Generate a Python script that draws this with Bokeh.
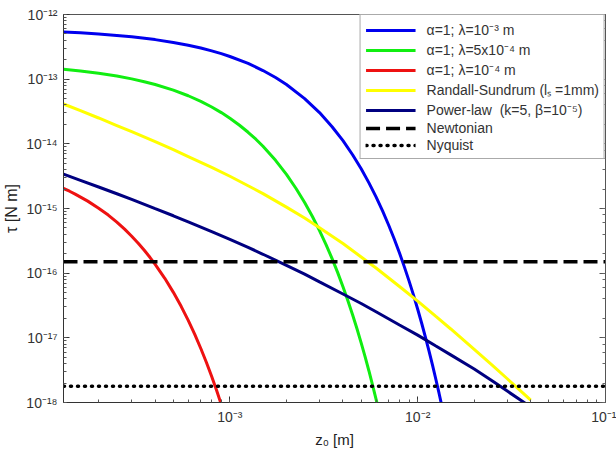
from bokeh.plotting import figure
from bokeh.models import (Range1d, LogAxis, Legend, LegendItem,
                          CustomJSTickFormatter, LogTicker)
from bokeh.embed import file_html
from bokeh.resources import INLINE

# ---- data ----
x_blue = [1.3e-4, 1.6e-4, 2e-4, 2.5e-4, 3e-4, 4e-4, 5e-4, 6e-4, 7e-4, 8e-4, 9e-4, 1e-3,
          1.25e-3, 1.5e-3, 1.75e-3, 2e-3, 2.5e-3, 3e-3, 3.5e-3, 4e-3, 4.5e-3, 5e-3, 5.5e-3,
          6e-3, 6.5e-3, 7e-3, 7.5e-3, 8e-3, 8.5e-3, 9e-3, 9.5e-3, 1e-2, 1.05e-2, 1.1e-2,
          1.15e-2, 1.2e-2, 1.25e-2, 1.3e-2, 1.35e-2, 1.4e-2]
tau_blue = [5.36e-13, 5.20e-13, 4.99e-13, 4.75e-13, 4.52e-13, 4.09e-13, 3.70e-13, 3.35e-13,
            3.03e-13, 2.74e-13, 2.48e-13, 2.24e-13, 1.75e-13, 1.36e-13, 1.06e-13, 8.26e-14,
            5.01e-14, 3.04e-14, 1.84e-14, 1.12e-14, 6.78e-15, 4.11e-15, 2.49e-15, 1.51e-15,
            9.17e-16, 5.56e-16, 3.37e-16, 2.05e-16, 1.24e-16, 7.53e-17, 4.57e-17, 2.77e-17,
            1.68e-17, 1.02e-17, 6.18e-18, 3.75e-18, 2.27e-18, 1.38e-18, 8.36e-19, 5.1e-19]

x_green = [1.3e-4, 1.6e-4, 2e-4, 2.5e-4, 3e-4, 3.5e-4, 4e-4, 5e-4, 6e-4, 7e-4, 8e-4, 9e-4,
           1e-3, 1.125e-3, 1.25e-3, 1.375e-3, 1.5e-3, 1.75e-3, 2e-3, 2.25e-3, 2.5e-3, 2.75e-3,
           3e-3, 3.25e-3, 3.5e-3, 3.75e-3, 4e-3, 4.25e-3, 4.5e-3, 4.75e-3, 5e-3, 5.25e-3,
           5.5e-3, 5.75e-3, 6e-3, 6.25e-3, 6.5e-3]
tau_green = [1.42e-13, 1.34e-13, 1.23e-13, 1.12e-13, 1.01e-13, 9.14e-14, 8.27e-14, 6.77e-14,
             5.54e-14, 4.54e-14, 3.71e-14, 3.04e-14, 2.49e-14, 1.94e-14, 1.51e-14, 1.18e-14,
             9.16e-15, 5.56e-15, 3.37e-15, 2.04e-15, 1.24e-15, 7.52e-16, 4.56e-16, 2.77e-16,
             1.68e-16, 1.02e-16, 6.17e-17, 3.74e-17, 2.27e-17, 1.38e-17, 8.35e-18, 5.07e-18,
             3.07e-18, 1.86e-18, 1.13e-18, 6.85e-19, 4.16e-19]

x_red = [1.3e-4, 1.4e-4, 1.5e-4, 1.75e-4, 2e-4, 2.25e-4, 2.5e-4, 2.75e-4, 3e-4, 3.25e-4,
         3.5e-4, 3.75e-4, 4e-4, 4.5e-4, 5e-4, 5.5e-4, 6e-4, 6.5e-4, 7e-4, 7.5e-4, 8e-4,
         8.5e-4, 9e-4, 9.5e-4, 1e-3]
tau_red = [2.04e-15, 1.85e-15, 1.67e-15, 1.30e-15, 1.01e-15, 7.91e-16, 6.16e-16, 4.79e-16,
           3.73e-16, 2.91e-16, 2.26e-16, 1.76e-16, 1.37e-16, 8.33e-17, 5.05e-17, 3.07e-17,
           1.86e-17, 1.13e-17, 6.84e-18, 4.15e-18, 2.52e-18, 1.53e-18, 9.3e-19, 5.6e-19,
           3.4e-19]

x_common = [1.3e-4, 1.6e-4, 2e-4, 2.5e-4, 3e-4, 4e-4, 5e-4, 6e-4, 8e-4, 1e-3, 1.25e-3,
            1.5e-3, 2e-3, 2.5e-3, 3e-3, 4e-3, 5e-3, 6e-3, 8e-3, 1e-2, 1.25e-2, 1.5e-2, 2e-2,
            2.5e-2, 3e-2, 4e-2]
tau_yellow = [4.13e-14, 3.27e-14, 2.51e-14, 1.92e-14, 1.54e-14, 1.08e-14, 8.11e-15, 6.35e-15,
              4.32e-15, 3.15e-15, 2.25e-15, 1.70e-15, 1.05e-15, 7.11e-16, 5.02e-16, 2.87e-16,
              1.78e-16, 1.20e-16, 6.23e-17, 3.70e-17, 2.14e-17, 1.37e-17, 6.62e-18, 3.74e-18,
              2.33e-18, 1.09e-18]
tau_navy = [3.40e-15, 2.73e-15, 2.15e-15, 1.69e-15, 1.38e-15, 9.93e-16, 7.72e-16, 6.23e-16,
            4.39e-16, 3.33e-16, 2.51e-16, 1.96e-16, 1.32e-16, 9.68e-17, 7.34e-17, 4.76e-17,
            3.40e-17, 2.53e-17, 1.58e-17, 1.10e-17, 7.47e-18, 5.45e-18, 3.30e-18, 2.15e-18,
            1.50e-18, 8.52e-19]

x_flat = [1.3e-4, 1e-1]
tau_newton = [1.5e-16, 1.5e-16]
tau_nyquist = [1.78e-18, 1.78e-18]

labels = ["α=1; λ=10⁻³ m", "α=1; λ=5x10⁻⁴ m", "α=1; λ=10⁻⁴ m",
          "Randall-Sundrum (lₛ =1mm)", "Power-law  (k=5, β=10⁻⁵)",
          "Newtonian", "Nyquist"]

FONT = "Liberation Sans"

p = figure(width=616, height=450, x_axis_type="log", y_axis_type="log",
           x_range=Range1d(1.3e-4, 1e-1), y_range=Range1d(1e-18, 1e-12),
           output_backend="svg", toolbar_location=None,
           min_border_left=62, min_border_right=11, min_border_top=14, min_border_bottom=47)
p.grid.visible = False
p.outline_line_color = "#555555"
p.outline_line_width = 1
p.background_fill_color = "white"
p.border_fill_color = "white"

fmt = CustomJSTickFormatter(code="""
const e = Math.round(Math.log10(tick));
const sup = {'-':'\u207b','0':'\u2070','1':'\u00b9','2':'\u00b2','3':'\u00b3','4':'\u2074',
             '5':'\u2075','6':'\u2076','7':'\u2077','8':'\u2078','9':'\u2079'};
return '10' + String(e).split('').map(c => sup[c]).join('');
""")

for ax in (p.xaxis[0], p.yaxis[0]):
    ax.formatter = fmt
    ax.major_tick_in = 6
    ax.major_tick_out = 0
    ax.minor_tick_in = 3
    ax.minor_tick_out = 0
    ax.axis_line_color = "#333333"
    ax.major_tick_line_color = "#333333"
    ax.minor_tick_line_color = "#555555"
    ax.major_label_text_font = FONT
    ax.major_label_text_font_size = "14px"
    ax.major_label_text_color = "#333333"
    ax.major_label_standoff = 6
    ax.axis_label_text_font = FONT
    ax.axis_label_text_font_style = "normal"
    ax.axis_label_text_color = "#222222"
    ax.axis_label_standoff = 3

p.yaxis[0].axis_label = "τ [N m]"
p.yaxis[0].axis_label_text_font_size = "16px"
p.xaxis[0].axis_label = "z₀ [m]"
p.xaxis[0].axis_label_text_font_size = "15px"

raxis = LogAxis(ticker=LogTicker(), major_tick_in=6, major_tick_out=0,
                minor_tick_in=3, minor_tick_out=0, major_label_text_font_size="2px",
                major_label_text_alpha=0.0,
                major_label_standoff=0, axis_line_color="#555555",
                major_tick_line_color="#555555", minor_tick_line_color="#666666")
p.add_layout(raxis, "right")

r_blue = p.line(x_blue, tau_blue, line_color="#0000ee", line_width=3)
r_green = p.line(x_green, tau_green, line_color="#11ee11", line_width=3)
r_red = p.line(x_red, tau_red, line_color="#ee1111", line_width=3)
r_yellow = p.line(x_common, tau_yellow, line_color="#ffff00", line_width=3)
r_navy = p.line(x_common, tau_navy, line_color="#000080", line_width=3)
r_newton = p.line(x_flat, tau_newton, line_color="black", line_width=3.5, line_dash="14 6")
r_nyq = p.line(x_flat, tau_nyquist, line_color="black", line_width=3.5, line_dash="1 6",
               line_cap="round")

renderers = [r_blue, r_green, r_red, r_yellow, r_navy, r_newton, r_nyq]
legend = Legend(items=[LegendItem(label=l, renderers=[r]) for l, r in zip(labels, renderers)],
                location="top_right", margin=0, padding=5, spacing=1,
                glyph_width=50, glyph_height=16, label_height=16, label_standoff=11,
                label_text_font=FONT, label_text_font_size="14px",
                label_text_color="#333333",
                border_line_color="#555555", border_line_width=1,
                background_fill_color="white", background_fill_alpha=1.0)
p.add_layout(legend)

open("out.html", "w").write(file_html(p, INLINE))
